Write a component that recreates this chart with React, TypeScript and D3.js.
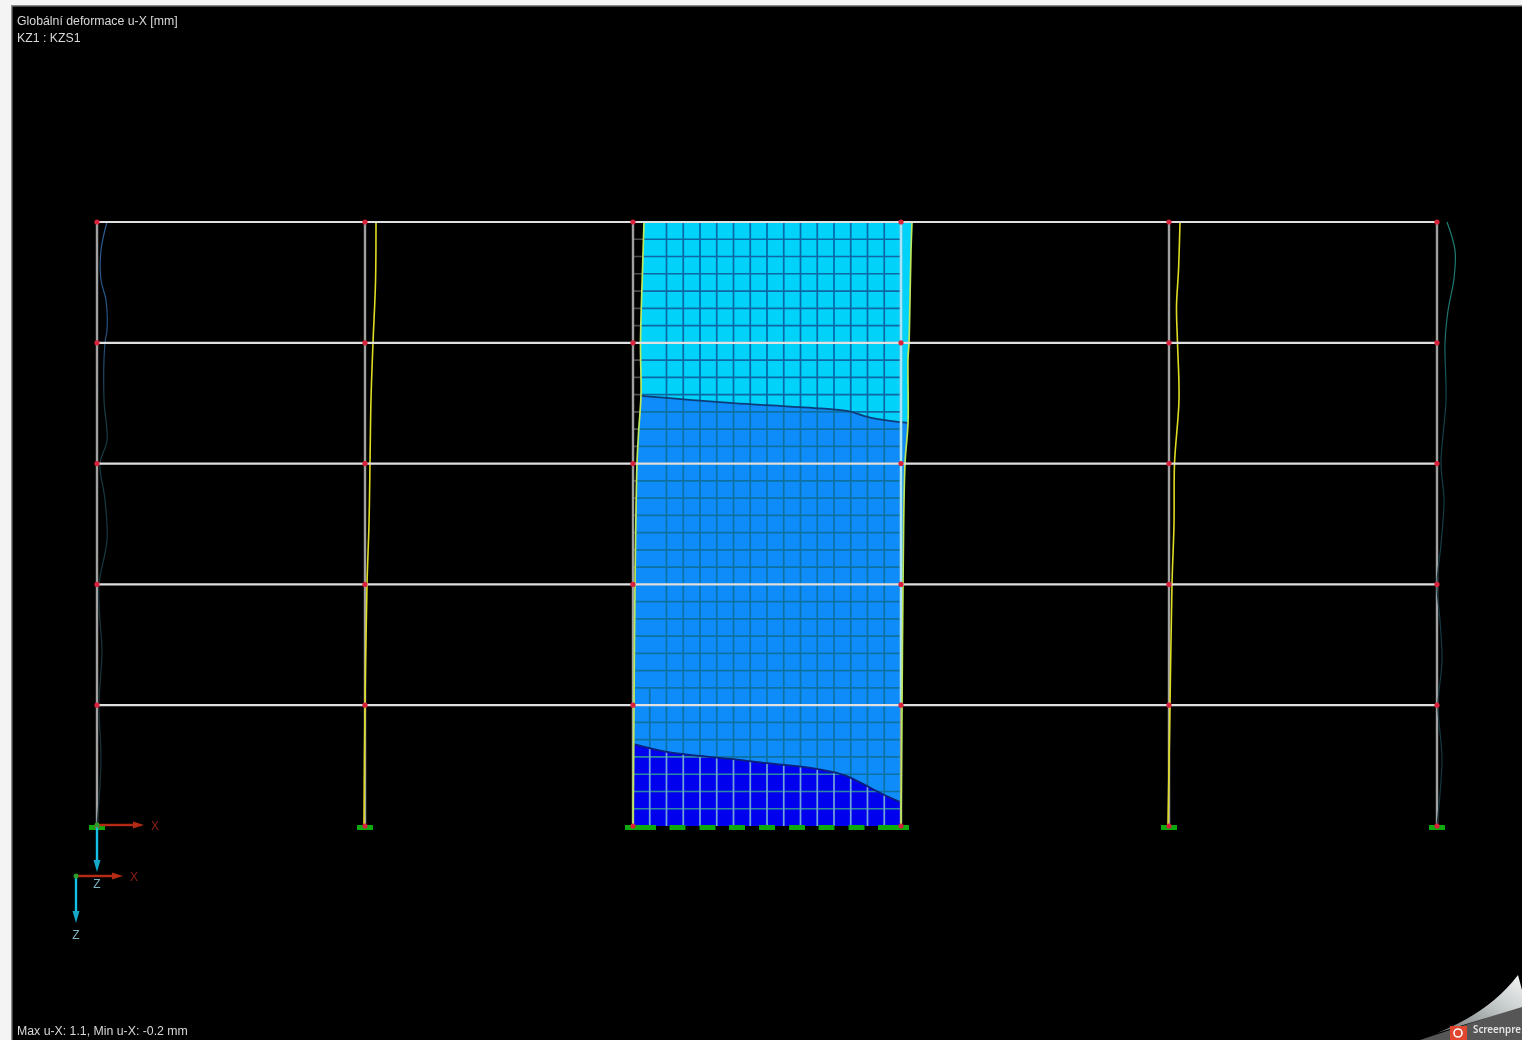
import React from 'react';
import * as d3 from 'd3';

const width = 1522;
const height = 1040;

// frame geometry in metres, deformations in mm
const columnX = [0, 5, 10, 15, 20, 25];
const levels = [3, 6, 9, 12, 15];
const wallFrom = 10;
const wallTo = 15;
const meshCols = 16;
const meshRows = 35;
const wallSupportsX = [10.28, 10.83, 11.39, 11.94, 12.5, 13.06, 13.61, 14.17, 14.72];

const col1Defl: [number, number][] = [[15, 1.0], [14.3, 0.4], [13.56, 0.4], [13.06, 0.9], [12.32, 1.0], [12, 0.8], [10.58, 0.7], [9.58, 1.0], [9, 0.3], [8.1, 0.8], [7.1, 1.0], [6, 0.2], [5.1, 0.3], [4.37, 0.5], [3, 0.2], [1.64, 0.4], [0, 0]];
const col2Defl: [number, number][] = [[15, 1.1], [13.5, 1.05], [12, 0.8], [10.6, 0.6], [9, 0.5], [7.5, 0.4], [6, 0.2], [3, 0], [0, -0.1]];
const col5Defl: [number, number][] = [[15, 1.1], [13.8, 0.95], [12.9, 0.75], [12, 0.85], [10.6, 1.0], [9, 0.55], [7.5, 0.5], [6, 0.3], [3, 0.1], [0, -0.1]];
const col6Defl: [number, number][] = [[15, 1.0], [14.3, 1.8], [13.6, 1.7], [12.8, 1.1], [12, 0.8], [10.6, 0.9], [9, 0.4], [8.1, 0.7], [7, 0.4], [6, 0], [5.1, 0.3], [4.1, 0.5], [3, 0.1], [1.64, 0.5], [0, 0]];

const wallLeftDefl: [number, number][] = [[15, 1.1], [13.8, 0.95], [12, 0.75], [10.7, 0.8], [9.75, 0.55], [9, 0.4], [6, 0.2], [3, 0.1], [0, 0]];
const wallRightDefl: [number, number][] = [[15, 1.1], [14.3, 1.0], [13.1, 0.9], [12, 0.8], [11.6, 0.7], [10, 0.7], [9, 0.4], [6, 0.2], [3, 0.1], [0, 0]];

const upperBoundary: [number, number][] = [[10.15, 10.68], [10.63, 10.63], [11.87, 10.5], [13.12, 10.4], [13.99, 10.31], [14.37, 10.16], [14.98, 10.03], [15.13, 10.01]];
const lowerBoundary: [number, number][] = [[10, 2.04], [10.63, 1.84], [11.25, 1.74], [11.87, 1.66], [12.5, 1.56], [13.43, 1.42], [13.99, 1.24], [14.37, 0.99], [14.66, 0.79], [14.98, 0.6]];

const titleLines = ['Globální deformace u-X [mm]', 'KZ1 : KZS1'];
const statusLine = 'Max u-X: 1.1, Min u-X: -0.2 mm';

const xScale = d3.scaleLinear().domain([0, 25]).range([97, 1437]);
const hScale = d3.scaleLinear().domain([0, 15]).range([826, 222]);
const uScale = d3.scaleLinear().domain([0, 1]).range([0, 10]);

const straight = d3.line<[number, number]>().x(d => xScale(d[0])).y(d => hScale(d[1]));
const bent = d3.line<[number, number]>().x(d => xScale(d[0])).y(d => hScale(d[1])).curve(d3.curveMonotoneX);

const deformedPoint = (base: number) => (d: [number, number]): [number, number] => [
  xScale(base) + uScale(d[1]),
  hScale(d[0]),
];
const smooth = d3.line().curve(d3.curveCatmullRom.alpha(0.5));
const deformedPath = (base: number, defl: [number, number][]) =>
  smooth(defl.map(deformedPoint(base))) as string;

const wallOutline =
  deformedPath(wallFrom, wallLeftDefl) +
  'L' + deformedPath(wallTo, [...wallRightDefl].reverse()).slice(1) + 'Z';

// wide areas that hold each colour band; the wall outline clips them
const lastUpper = upperBoundary[upperBoundary.length - 1];
const lastLower = lowerBoundary[lowerBoundary.length - 1];
const topBand = (straight([[9, 16], [9, upperBoundary[0][1]], ...upperBoundary, [17, lastUpper[1]], [17, 16]]) as string) + 'Z';
const bottomBand = (straight([[9, -1], [9, lowerBoundary[0][1]], ...lowerBoundary, [17, lastLower[1]], [17, -1]]) as string) + 'Z';
const meshVerticals = d3.range(1, meshCols).map(k => wallFrom + (k * (wallTo - wallFrom)) / meshCols);
const meshHorizontals = d3.range(1, meshRows).map(k => (k * 15) / meshRows);

const Mesh = ({ h, v }: { h: string; v: string }) => (
  <g fill="none" strokeWidth={1.7}>
    {meshHorizontals.map(m => (
      <line key={m} x1={xScale(wallFrom)} x2={xScale(wallTo)} y1={hScale(m)} y2={hScale(m)} stroke={h} />
    ))}
    {meshVerticals.map((m, i) => (
      <line key={m} x1={xScale(m)} x2={xScale(m)} y1={hScale(i === 0 ? 3.4 : 15)} y2={hScale(0)} stroke={v} />
    ))}
  </g>
);

const Triad = ({ x, y }: { x: number; y: number }) => (
  <g fontFamily="Liberation Sans" fontSize={12}>
    <line x1={x} x2={x + 40} y1={y} y2={y} stroke="#b32a12" strokeWidth={2.4} />
    <path d={`M${x + 47},${y} l-11,-3.5 v7 Z`} fill="#b32a12" />
    <line x1={x} x2={x} y1={y} y2={y + 40} stroke="#12bfe6" strokeWidth={2.4} />
    <path d={`M${x},${y + 47} l-3.5,-12 h7 Z`} fill="#12a8c8" />
    <text x={x + 58} y={y + 4.5} textAnchor="middle" fill="#8e2018">X</text>
    <text x={x} y={y + 63} textAnchor="middle" fill="#7db4c4">Z</text>
    <circle cx={x} cy={y} r={2.5} fill="#2aa02a" />
  </g>
);

const App: React.FC = () => {
  return (
    <svg
      width={width}
      height={height}
      viewBox={`0 0 ${width} ${height}`}
      style={{ position: 'absolute', left: 0, top: 0, display: 'block' }}
    >
      <defs>
        <filter id="soft" x="0" y="0" width="100%" height="100%">
          <feGaussianBlur stdDeviation="0.6" />
        </filter>
        <clipPath id="wallClip"><path d={wallOutline} /></clipPath>
        <clipPath id="topClip"><path d={topBand} /></clipPath>
        <clipPath id="bottomClip"><path d={bottomBand} /></clipPath>
        <linearGradient id="curl" x1="0" y1="1" x2="1" y2="0">
          <stop offset="0" stopColor="#6f7272" />
          <stop offset="0.6" stopColor="#c4caca" />
          <stop offset="1" stopColor="#f4f4f4" />
        </linearGradient>
        <linearGradient id="edgeLeft" gradientUnits="userSpaceOnUse" x1="0" x2="0" y1={hScale(15)} y2={hScale(0)}>
          <stop offset="0" stopColor="#2a5c92" />
          <stop offset="0.2" stopColor="#24507f" />
          <stop offset="0.3" stopColor="#1a3c44" />
          <stop offset="1" stopColor="#16303a" />
        </linearGradient>
        <linearGradient id="edgeRight" gradientUnits="userSpaceOnUse" x1="0" x2="0" y1={hScale(15)} y2={hScale(0)}>
          <stop offset="0" stopColor="#1d8074" />
          <stop offset="0.2" stopColor="#1b6e6a" />
          <stop offset="0.3" stopColor="#124048" />
          <stop offset="1" stopColor="#14343e" />
        </linearGradient>
      </defs>

      <rect width={width} height={height} fill="#f4f4f4" />
      <rect x={11} y={5} width={width - 11} height={height - 5} fill="#8a8a8a" />
      <rect x={12.5} y={6.5} width={width - 12.5} height={height - 6.5} fill="#000" />

      <g filter="url(#soft)">
        {/* mesh stubs that stick out of the deformed wall */}
        <Mesh h="#4c4c4c" v="none" />

        <g clipPath="url(#wallClip)">
          <path d={wallOutline} fill="#0a8cfa" />
          <Mesh h="#0a72a2" v="#0a72a2" />
          <g clipPath="url(#topClip)">
            <path d={wallOutline} fill="#05d2fa" />
            <Mesh h="#0868a4" v="#0868a4" />
          </g>
          <g clipPath="url(#bottomClip)">
            <path d={wallOutline} fill="#0404ee" />
            <Mesh h="#2a8aa0" v="#6fa4d8" />
          </g>
        </g>

        <path d={bent(upperBoundary) as string} fill="none" stroke="#0a3c78" strokeWidth={1.8} />
        <path d={bent(lowerBoundary) as string} fill="none" stroke="#08207a" strokeWidth={1.8} />

        {/* undeformed columns */}
        {columnX.map(c => (
          <line key={c} x1={xScale(c)} x2={xScale(c)} y1={hScale(15)} y2={hScale(0)} stroke="#a0a0a0" strokeWidth={2.4} />
        ))}
        <g clipPath="url(#wallClip)">
          <line x1={xScale(wallTo)} x2={xScale(wallTo)} y1={hScale(15)} y2={hScale(3)} stroke="#a6e4fa" strokeWidth={2.4} />
        </g>

        {/* deformed shape */}
        <path d={deformedPath(0, col1Defl)} fill="none" stroke="url(#edgeLeft)" strokeWidth={1.2} />
        <path d={deformedPath(5, col2Defl)} fill="none" stroke="#e0dc22" strokeWidth={1.6} />
        <path d={deformedPath(20, col5Defl)} fill="none" stroke="#e0dc22" strokeWidth={1.6} />
        <path d={deformedPath(25, col6Defl)} fill="none" stroke="url(#edgeRight)" strokeWidth={1.2} />
        <path d={deformedPath(wallFrom, wallLeftDefl)} fill="none" stroke="#bce85a" strokeWidth={1.7} />
        <path d={deformedPath(wallTo, wallRightDefl)} fill="none" stroke="#bce85a" strokeWidth={1.7} />

        {/* beams */}
        {levels.map(l => (
          <line key={l} x1={xScale(0)} x2={xScale(25)} y1={hScale(l)} y2={hScale(l)} stroke="#e0e0e0" strokeWidth={2.2} />
        ))}

        {/* supports */}
        {columnX.map(c => (
          <rect key={c} x={xScale(c) - 8} y={hScale(0) - 1} width={16} height={5} fill="#0aaa0a" />
        ))}
        {wallSupportsX.map(s => (
          <rect key={s} x={xScale(s) - 8} y={hScale(0) - 1} width={16} height={5} fill="#0aaa0a" />
        ))}

        {/* nodes */}
        {columnX.map(c =>
          [0, ...levels].map(l => (
            <circle key={`${c}-${l}`} cx={xScale(c)} cy={hScale(l)} r={2.6} fill="#d8203a" />
          ))
        )}

        <Triad x={xScale(0)} y={825} />
        <Triad x={76} y={876} />

        <g fontFamily="Liberation Sans" fontSize={12.3} fill="#d8d8d8">
          {titleLines.map((t, i) => (
            <text key={t} x={17} y={25 + i * 17}>{t}</text>
          ))}
          <text x={17} y={1035}>{statusLine}</text>
        </g>

        {/* recorder watermark in the corner */}
        <path d="M1420,1040 L1522,1006 V1040 Z" fill="#565656" />
        <path d="M1437,1033 Q1490,1012 1518,975 L1522,990 V1007 Z" fill="url(#curl)" />
        <rect x={1450} y={1026} width={17} height={14} fill="#e0462e" />
        <circle cx={1458} cy={1033} r={4} fill="none" stroke="#fff" strokeWidth={1.6} />
        <text x={1473} y={1033} fontFamily="Noto Sans" fontSize={9.8} fontWeight={600} fill="#e4e4e4">Screenpre</text>
      </g>
    </svg>
  );
};

export default App;
